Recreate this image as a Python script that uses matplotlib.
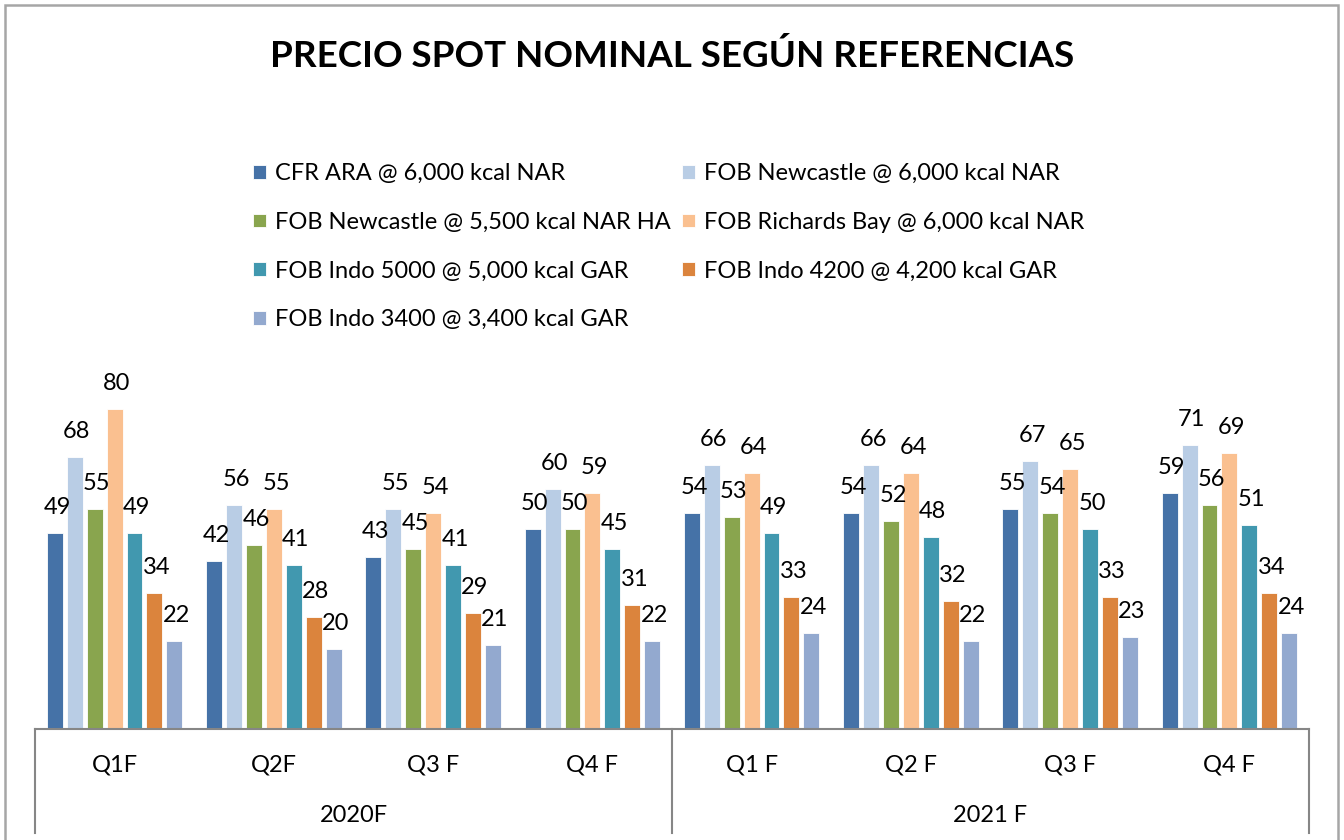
import numpy as np
import matplotlib
matplotlib.use("Agg")
import matplotlib.pyplot as plt
from matplotlib.patches import Rectangle

plt.rcParams['font.family'] = ['Lato', 'DejaVu Sans']

# data
quarters = ["Q1F", "Q2F", "Q3 F", "Q4 F", "Q1 F", "Q2 F", "Q3 F", "Q4 F"]
years = ["2020F", "2021 F"]
series_names = [
    "CFR ARA @ 6,000 kcal NAR",
    "FOB Newcastle @ 6,000 kcal NAR",
    "FOB Newcastle @ 5,500 kcal NAR HA",
    "FOB Richards Bay @ 6,000 kcal NAR",
    "FOB Indo 5000 @ 5,000 kcal GAR",
    "FOB Indo 4200 @ 4,200 kcal GAR",
    "FOB Indo 3400 @ 3,400 kcal GAR",
]
cfr_ara = [49, 42, 43, 50, 54, 54, 55, 59]
newc_6000 = [68, 56, 55, 60, 66, 66, 67, 71]
newc_5500 = [55, 46, 45, 50, 53, 52, 54, 56]
richards_bay = [80, 55, 54, 59, 64, 64, 65, 69]
indo_5000 = [49, 41, 41, 45, 49, 48, 50, 51]
indo_4200 = [34, 28, 29, 31, 33, 32, 33, 34]
indo_3400 = [22, 20, 21, 22, 24, 22, 23, 24]
values = [cfr_ara, newc_6000, newc_5500, richards_bay, indo_5000, indo_4200, indo_3400]
colors = ["#4572A7", "#B9CDE5", "#89A54E", "#FAC090", "#4198AF", "#DB843D", "#93A9CF"]

W, H = 1344, 840
fig = plt.figure(figsize=(W / 100, H / 100), dpi=100)
fig.patch.set_facecolor("white")

# outer chart border
fig.add_artist(Rectangle((5 / W, -0.05), (1338 - 5) / W, (H - 5) / H + 0.05,
                         transform=fig.transFigure, fill=False,
                         edgecolor="#A6A6A6", linewidth=1.8))

ymax = 90
ax = fig.add_axes([35 / W, (H - 729) / H, (1309 - 35) / W, 4 * ymax / H])
ax.set_xlim(0, len(quarters))
ax.set_ylim(0, ymax)
ax.axis("off")

slot = 0.125
bw = 0.1
fs = 17
x = np.arange(len(quarters)) + 0.5
handles = []
for j, (vals, col) in enumerate(zip(values, colors)):
    pos = x + (j - 3) * slot
    b = ax.bar(pos, vals, width=bw, color=col, edgecolor="white", linewidth=0.6,
               label=series_names[j])
    handles.append(b)
    for px, v in zip(pos, vals):
        ax.annotate(str(v), (px, v), xytext=(1.5, 18), textcoords="offset points",
                    ha="center", va="center", fontsize=fs, color="black")

# multi-level category axis
axis_col = "#868686"
ax.plot([0, 8], [0, 0], color=axis_col, lw=1.5, clip_on=False)
for xv in [0, 4, 8]:
    ax.plot([xv, xv], [0, -26], color=axis_col, lw=1.5, clip_on=False)
for xi, q in zip(x, quarters):
    ax.text(xi, -9, q, ha="center", va="center", fontsize=fs)
ax.text(2, -21.5, years[0], ha="center", va="center", fontsize=fs)
ax.text(6, -21.5, years[1], ha="center", va="center", fontsize=fs)

fig.text(672 / W, 1 - 56 / H, "PRECIO SPOT NOMINAL SEGÚN REFERENCIAS",
         ha="center", va="center", fontsize=26.5, fontweight="bold")

order = [0, 2, 4, 6, 1, 3, 5]
leg = fig.legend([handles[i] for i in order], [series_names[i] for i in order],
                 ncol=2, loc="upper left", bbox_to_anchor=(232 / W, 1 - 142 / H),
                 frameon=False, fontsize=fs, handlelength=0.52, handleheight=0.52,
                 handletextpad=0.42, labelspacing=1.17, columnspacing=0.47)

fig.savefig("out.png", dpi=100, facecolor="white")
